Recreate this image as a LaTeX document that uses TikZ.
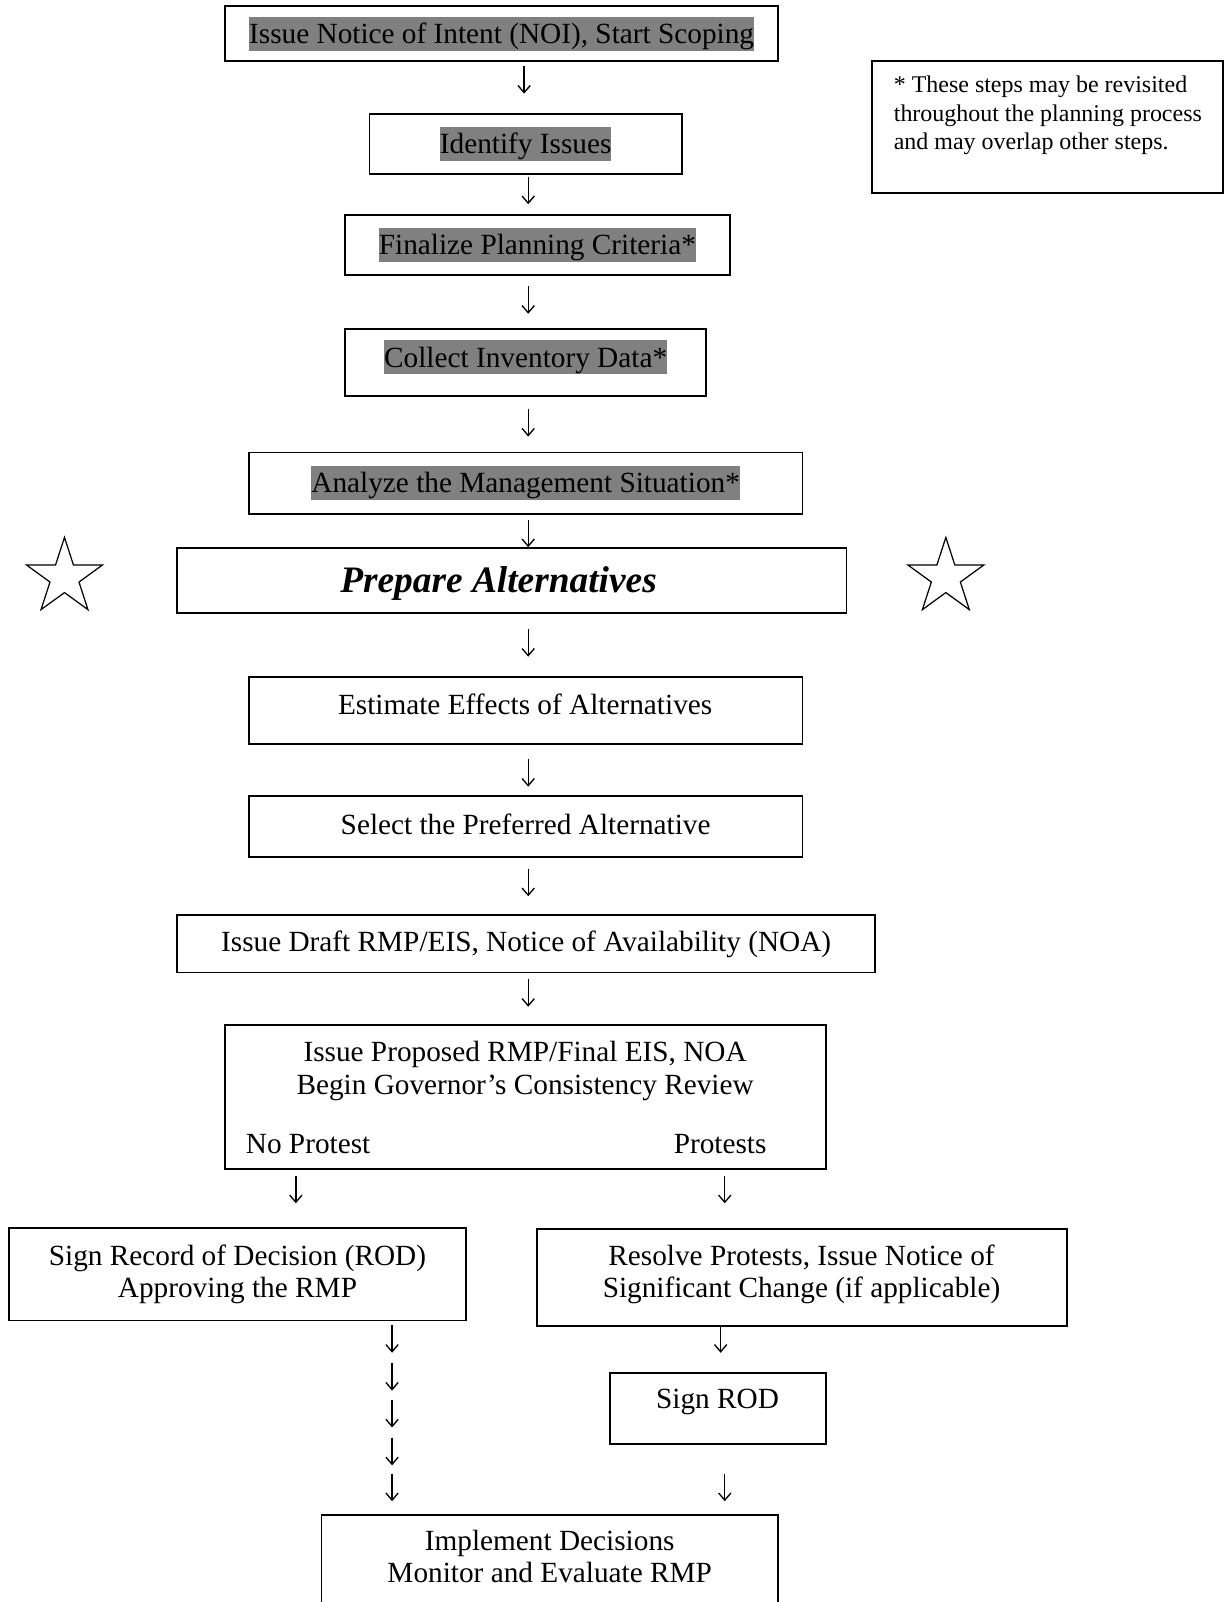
\documentclass[tikz,border=0pt]{standalone}
\usepackage{fontspec}
\setmainfont{Liberation Serif}
\usetikzlibrary{shapes.geometric,arrows.meta}
\definecolor{hlgray}{RGB}{128,128,128}
\newcommand{\hlt}[1]{{\setlength{\fboxsep}{0pt}\colorbox{hlgray}{\rule[-0.24em]{0pt}{1.15em}#1}}}
\tikzset{
  stepbox/.style={draw, line width=1.8pt, inner sep=0pt},
  steptext/.style={font=\fontsize{28.6}{32}\selectfont, inner sep=0pt, align=center},
  oneline/.style={text height=16pt, text depth=0pt},
  flow/.style={line width=1.3pt, -{Straight Barb[length=7pt,width=12pt,line width=1.3pt]}},
  starmark/.style={star, star points=5, star point ratio=2.618, draw, line width=1.2pt,
    minimum size=78pt, inner sep=0pt},
}
\begin{document}
\begin{tikzpicture}[x=1pt,y=-1pt]
  \useasboundingbox (0,0) rectangle (1197,1565);
  % main column
  \node[stepbox, steptext, minimum width=540pt, minimum height=54pt] (noi) at (490,33) {\hlt{Issue Notice of Intent (NOI), Start Scoping}};
  \node[stepbox, steptext, minimum width=305pt, minimum height=59pt] (issues) at (513.5,140.5) {\hlt{Identify Issues}};
  \node[stepbox, steptext, minimum width=376pt, minimum height=59pt] (criteria) at (525,239.5) {\hlt{Finalize Planning Criteria*}};
  \node[stepbox, minimum width=353pt, minimum height=66pt] (inventory) at (513.5,354) {};
  \node[steptext] (inventorytext) at (513.5,349) {\hlt{Collect Inventory Data*}};
  \node[stepbox, steptext, minimum width=541pt, minimum height=60pt] (analyze) at (513.5,472) {\hlt{Analyze the Management Situation*}};
  \node[stepbox, minimum width=654pt, minimum height=64pt] (prepare) at (500,567) {};
  \node[steptext, font=\fontsize{36.5}{40}\selectfont\bfseries\itshape, text height=24pt, text depth=0pt] (preparetext) at (487,567) {Prepare Alternatives};
  \node[starmark] (starl) at (63,564) {};
  \node[starmark] (starr) at (924,564) {};
  \node[stepbox, minimum width=541pt, minimum height=66pt] (effects) at (513.5,694) {};
  \node[steptext, oneline] (effectstext) at (513,690) {Estimate Effects of Alternatives};
  \node[stepbox, steptext, oneline, minimum width=541pt, minimum height=59pt] (select) at (513.5,807.5) {Select the Preferred Alternative};
  \node[stepbox, steptext, oneline, minimum width=682pt, minimum height=56pt] (draft) at (514,922) {Issue Draft RMP/EIS, Notice of Availability (NOA)};
  \node[stepbox, minimum width=587pt, minimum height=141pt] (proposed) at (513.5,1071.5) {};
  \node[steptext] (proposedtext) at (513,1046.6) {Issue Proposed RMP/Final EIS, NOA\\Begin Governor’s Consistency Review};
  \node[steptext, oneline, anchor=west] (noprotest) at (240,1119) {No Protest};
  \node[steptext, oneline, anchor=east] (protests) at (749,1119) {Protests};
  % two branches
  \node[stepbox, steptext, minimum width=446pt, minimum height=90pt] (signrecord) at (232,1245) {Sign Record of Decision (ROD)\\Approving the RMP};
  \node[stepbox, minimum width=517pt, minimum height=94pt] (resolve) at (783.5,1248) {};
  \node[steptext] (resolvetext) at (783,1245) {Resolve Protests, Issue Notice of\\Significant Change (if applicable)};
  \node[stepbox, minimum width=211pt, minimum height=70pt] (signrod) at (701.5,1376) {};
  \node[steptext, oneline] (signrodtext) at (701,1368) {Sign ROD};
  \node[stepbox, minimum width=446pt, minimum height=130pt] (implement) at (537,1545) {};
  \node[steptext] (implementtext) at (537,1520.5) {Implement Decisions\\Monitor and Evaluate RMP};
  % arrows between the steps
  \foreach \x/\y [count=\i] in {512/78, 516/186, 516/293, 516/413, 516/521, 516/628, 516/755,
      516/862, 516/970, 289/1162, 708/1162, 383/1308, 383/1345, 383/1381, 383/1418, 383/1453,
      704/1308, 708/1453} {
    \coordinate (arr\i) at (\x,\y);
    \draw[flow] (arr\i) ++(0,-13.5) -- ++(0,27);
  }
  % note
  \node[stepbox, minimum width=343pt, minimum height=129pt] (note) at (1023.5,124) {};
  \node[font=\fontsize{23.4}{27.8}\selectfont, inner sep=0pt, align=left, anchor=north west] (notetext) at (873,74) {* These steps may be revisited\\throughout the planning process\\and may overlap other steps.};
\end{tikzpicture}
\end{document}
